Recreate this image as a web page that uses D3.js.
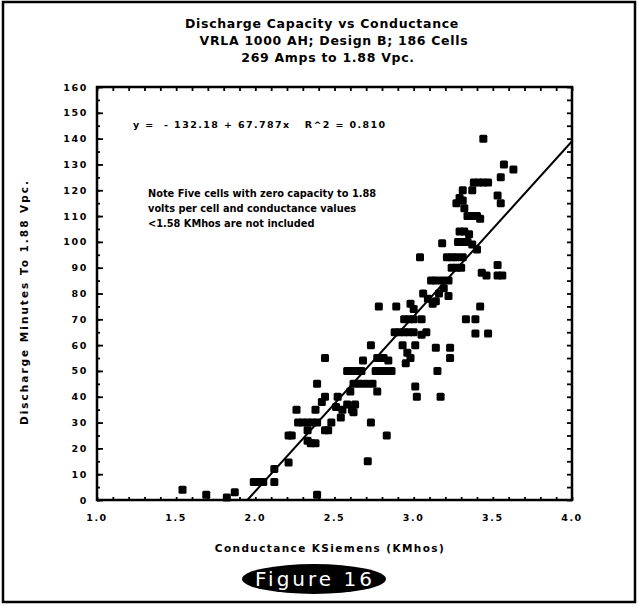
<!DOCTYPE html>
<html>
<head>
<meta charset="utf-8">
<script src="https://cdn.jsdelivr.net/npm/d3@7/dist/d3.min.js"></script>
<style>
body{margin:0;background:#fff;}
text{font-family:"DejaVu Sans",sans-serif;}
</style>
</head>
<body>
<svg id="chart" width="638" height="606"></svg>
<script>
//标题
var titleLines = ["Discharge Capacity vs Conductance", "VRLA 1000 AH; Design B; 186 Cells", "269 Amps to 1.88 Vpc."];
var xTitle = "Conductance KSiemens (KMhos)";
var yTitle = "Discharge Minutes To 1.88 Vpc.";
var figLabel = "Figure 16";

//刻度
var xTicks = [1.0, 1.5, 2.0, 2.5, 3.0, 3.5, 4.0];
var yTicks = [0, 10, 20, 30, 40, 50, 60, 70, 80, 90, 100, 110, 120, 130, 140, 150, 160];

//回归
var fitIntercept = -132.18;
var fitSlope = 67.787;
var fitText = "y =  - 132.18 + 67.787x   R^2 = 0.810";
var noteLines = ["Note  Five cells with zero capacity to 1.88", "volts per cell and conductance values", "<1.58 KMhos are not included"];

//数据 (电导, 放电分钟)
var conductance = [
	1.54, 1.69, 1.82, 1.87, 1.99, 2.02, 2.05, 2.12, 2.12, 2.21, 2.39,
	2.21, 2.23, 2.26, 2.27, 2.30, 2.33, 2.36, 2.39, 2.33, 2.33, 2.35, 2.38,
	2.38, 2.39, 2.44, 2.42, 2.44, 2.44, 2.46, 2.48, 2.52, 2.51, 2.55, 2.54,
	2.58, 2.61, 2.63, 2.62, 2.60, 2.62, 2.66, 2.70, 2.74, 2.77, 2.58, 2.61,
	2.64, 2.67, 2.68, 2.73, 2.71, 2.83, 2.73, 2.77, 2.81, 2.84, 2.76, 2.79,
	2.82, 2.86, 2.78, 2.88, 2.91, 2.94, 2.97, 3.00, 2.89, 2.94, 2.97, 3.00,
	3.05, 2.96, 2.93, 2.98, 3.00, 2.95, 2.98, 3.01, 3.01, 3.02, 3.05, 3.08,
	3.06, 3.09, 3.12, 3.14, 3.04, 3.11, 3.14, 3.18, 3.22, 3.14, 3.15, 3.17,
	3.16, 3.19, 3.22, 3.23, 3.23, 3.18, 3.21, 3.24, 3.27, 3.31, 3.24, 3.27,
	3.30, 3.28, 3.31, 3.34, 3.37, 3.40, 3.29, 3.32, 3.35, 3.27, 3.29, 3.31,
	3.32, 3.34, 3.37, 3.40, 3.42, 3.31, 3.37, 3.38, 3.41, 3.44, 3.47, 3.44,
	3.33, 3.39, 3.39, 3.47, 3.42, 3.43, 3.46, 3.53, 3.53, 3.56, 3.53, 3.55,
	3.55, 3.57, 3.63
];
var minutes = [
	4, 2, 1, 3, 7, 7, 7, 12, 7, 14.5, 2,
	25, 25, 35, 30, 30, 30, 30, 30, 27, 23, 22, 22,
	35, 45, 55, 38, 40, 27, 27, 30, 40, 36, 35, 32,
	37, 35, 37, 34, 42, 45, 45, 45, 45, 42, 50, 50,
	50, 50, 54, 30, 15, 25, 60, 55, 55, 54, 50, 50,
	50, 50, 75, 65, 65, 65, 65, 65, 75, 70, 70, 70,
	70, 57, 60, 76, 74, 53, 55, 60, 44, 40, 64, 65,
	80, 78, 76, 77, 94, 85, 85, 85, 85, 59, 50, 40,
	80, 82, 79, 59, 55, 99.5, 94, 94, 94, 94, 90, 90,
	90, 100, 100, 100, 99, 97, 104, 104, 103, 115, 117, 116,
	113, 110, 110, 110, 109, 120, 120, 123, 123, 123, 123, 140,
	70, 70, 64.5, 64.5, 75, 88, 87, 91, 87, 87, 118, 115,
	125, 130, 128
];

var svg = d3.select("#chart");
var width = +svg.attr("width");
var height = +svg.attr("height");
var padding = {top:87, right:66, bottom:106, left:97};
var plotW = width - padding.left - padding.right;
var plotH = height - padding.top - padding.bottom;

//外框
svg.append("rect")
	.attr("x", 3).attr("y", 2)
	.attr("width", width-6).attr("height", height-6)
	.attr("fill", "#fff")
	.attr("stroke", "#000")
	.attr("stroke-width", 2.5);

//标题
svg.selectAll(".title")
	.data(titleLines)
	.enter().append("text")
	.attr("class", "title")
	.attr("x", function(d, i){ return i==0 ? 322 : (i==1 ? 334 : 328); })
	.attr("y", function(d, i){ return 28 + i*17; })
	.attr("text-anchor", "middle")
	.attr("font-size", 12.5)
	.attr("font-weight", "bold")
	.attr("letter-spacing", 0.7)
	.text(function(d){ return d; });

var x = d3.scaleLinear().domain([1, 4]).range([0, plotW]);
var y = d3.scaleLinear().domain([0, 160]).range([plotH, 0]);

var g = svg.append("g")
	.attr("transform", "translate(" + padding.left + "," + padding.top + ")");

//刻度 (向内)
var minorX = d3.range(10, 41).map(function(d){ return d/10; });
var minorY = d3.range(0, 33).map(function(d){ return d*5; });

g.append("g")
	.attr("transform", "translate(0," + plotH + ")")
	.call(d3.axisBottom(x).tickValues(minorX).tickSize(-3).tickFormat(""))
	.call(function(s){ s.select(".domain").remove(); });
g.append("g")
	.call(d3.axisTop(x).tickValues(minorX).tickSize(-4).tickFormat(""))
	.call(function(s){ s.select(".domain").remove(); });
g.append("g")
	.call(d3.axisLeft(y).tickValues(minorY).tickSize(-3).tickFormat(""))
	.call(function(s){ s.select(".domain").remove(); });
g.append("g")
	.call(d3.axisLeft(y).tickValues(yTicks).tickSize(-6).tickFormat(""))
	.call(function(s){ s.select(".domain").remove(); });
g.append("g")
	.attr("transform", "translate(" + plotW + ",0)")
	.call(d3.axisRight(y).tickValues(minorY).tickSize(-5).tickFormat(""))
	.call(function(s){ s.select(".domain").remove(); });
g.selectAll(".tick line").attr("stroke", "#000").attr("stroke-width", 1.8);

//边框
g.append("rect")
	.attr("width", plotW)
	.attr("height", plotH)
	.attr("fill", "none")
	.attr("stroke", "#000")
	.attr("stroke-width", 2.5);

//刻度标签
g.selectAll(".ylab")
	.data(yTicks)
	.enter().append("text")
	.attr("class", "ylab")
	.attr("x", -9)
	.attr("y", function(d){ return y(d) + 3.5; })
	.attr("text-anchor", "end")
	.attr("font-size", 9.5)
	.attr("font-weight", "bold")
	.attr("letter-spacing", 1.6)
	.text(function(d){ return d; });

g.selectAll(".xlab")
	.data(xTicks)
	.enter().append("text")
	.attr("class", "xlab")
	.attr("x", function(d){ return x(d); })
	.attr("y", plotH + 21)
	.attr("text-anchor", "middle")
	.attr("font-size", 9.5)
	.attr("font-weight", "bold")
	.attr("letter-spacing", 1.6)
	.text(function(d){ return d.toFixed(1); });

//轴标题
svg.append("text")
	.attr("x", 330)
	.attr("y", 552)
	.attr("text-anchor", "middle")
	.attr("font-size", 10.5)
	.attr("font-weight", "bold")
	.attr("letter-spacing", 1.4)
	.text(xTitle);

svg.append("text")
	.attr("transform", "translate(28,302) rotate(-90)")
	.attr("text-anchor", "middle")
	.attr("font-size", 10.5)
	.attr("font-weight", "bold")
	.attr("letter-spacing", 2)
	.text(yTitle);

//回归线
var x0 = -fitIntercept / fitSlope;
g.append("line")
	.attr("x1", x(x0))
	.attr("y1", y(0))
	.attr("x2", x(4))
	.attr("y2", y(fitIntercept + fitSlope*4))
	.attr("stroke", "#000")
	.attr("stroke-width", 2);

//数据点
var points = conductance.map(function(d, i){ return [d, minutes[i]]; });
g.selectAll(".pt")
	.data(points)
	.enter().append("rect")
	.attr("class", "pt")
	.attr("x", function(d){ return x(d[0]) - 4; })
	.attr("y", function(d){ return y(d[1]) - 4; })
	.attr("width", 8)
	.attr("height", 8)
	.attr("rx", 1.5)
	.attr("fill", "#000");

//公式和注释
g.append("text")
	.attr("x", 36)
	.attr("y", 41)
	.attr("font-size", 9.5)
	.attr("font-weight", "bold")
	.attr("letter-spacing", 1.4)
	.style("white-space", "pre")
	.text(fitText);

g.selectAll(".note")
	.data(noteLines)
	.enter().append("text")
	.attr("class", "note")
	.attr("x", 51)
	.attr("y", function(d, i){ return 110 + i*15; })
	.attr("font-size", 9.8)
	.attr("font-family", "'Liberation Sans', Arial, sans-serif")
	.attr("font-weight", "bold")
	.text(function(d){ return d; });

//图号
svg.append("ellipse")
	.attr("cx", 314)
	.attr("cy", 579)
	.attr("rx", 72)
	.attr("ry", 15)
	.attr("fill", "#000");
svg.append("text")
	.attr("x", 315)
	.attr("y", 586)
	.attr("text-anchor", "middle")
	.attr("font-size", 20)
	.attr("font-family", "Lato, 'DejaVu Sans', sans-serif")
	.attr("letter-spacing", 3)
	.attr("fill", "#fff")
	.text(figLabel);
</script>
</body>
</html>
